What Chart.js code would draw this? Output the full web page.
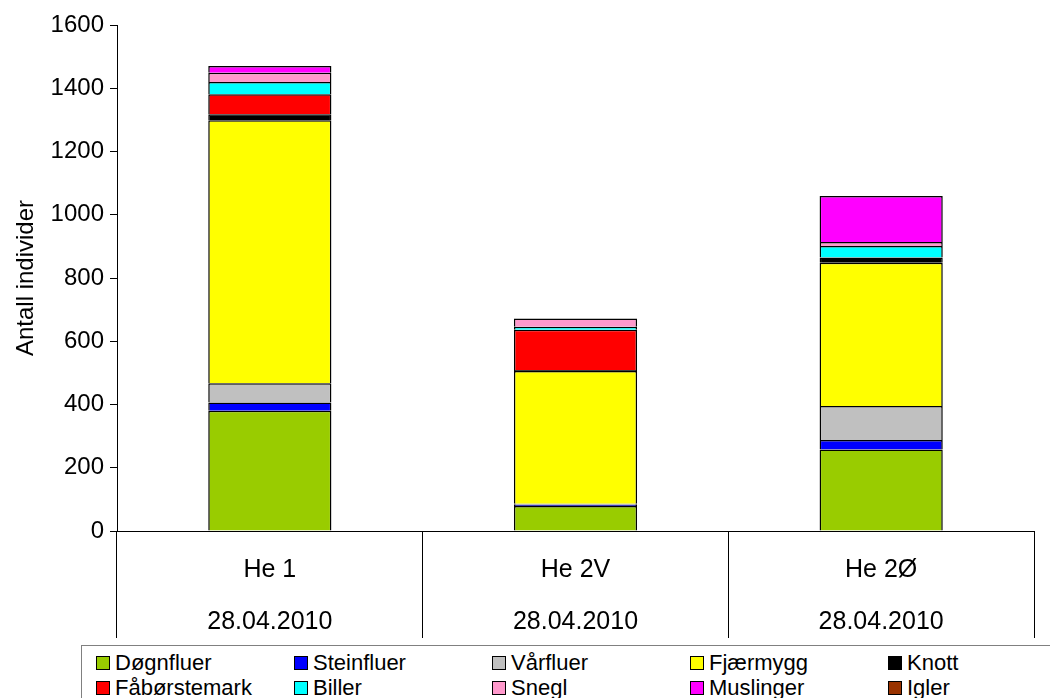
<!DOCTYPE html>
<html>
<head>
<meta charset="utf-8">
<script src="https://cdn.jsdelivr.net/npm/chart.js@4.4.0/dist/chart.umd.min.js"></script>
<style>
  body { margin: 0; background: #fff; }
  #wrap { position: relative; width: 1050px; height: 698px; overflow: hidden; }
  #legend {
    position: absolute; left: 81px; top: 645px; width: 1000px; height: 70px;
    border: 1px solid #808080; background: #fff; box-sizing: border-box;
    padding: 4px 0 0 14px;
    display: grid; grid-template-columns: repeat(5, 198px); grid-auto-rows: 25px;
    font-family: 'Liberation Sans', Arial, sans-serif; font-size: 22px; color: #000;
  }
  #legend .item { display: flex; align-items: center; white-space: nowrap; }
  #legend .box { width: 12px; height: 12px; border: 1px solid #000; margin-right: 5px; flex: none; }
</style>
</head>
<body>
<div id="wrap">
  <canvas id="myChart" width="1050" height="698"></canvas>
  <div id="legend"></div>
</div>
<script>
// data
var sites = ['He 1', 'He 2V', 'He 2Ø'];
var dates = ['28.04.2010', '28.04.2010', '28.04.2010'];

var dognfluer    = [380, 79, 258];
var steinfluer   = [26, 4, 30];
var varfluer     = [61, 3, 107];
var fjaermygg    = [832, 420, 453];
var knott        = [19, 3, 17];
var faborstemark = [63, 127, 0];
var biller       = [39, 10, 36];
var snegl        = [29, 26, 13];
var muslinger    = [21, 0, 145];
var igler        = [0, 0, 0];

var yTicks = [0, 200, 400, 600, 800, 1000, 1200, 1400, 1600];

var font = "'Liberation Sans', Arial, sans-serif";

function ds(label, data, color) {
  return {
    label: label,
    data: data,
    backgroundColor: color,
    borderColor: '#000',
    borderWidth: 1.5,
    barPercentage: 0.403,
    categoryPercentage: 1
  };
}

var ctx = document.getElementById('myChart').getContext('2d');
var myChart = new Chart(ctx, {
  type: 'bar',
  data: {
    labels: sites,
    datasets: [
      ds('Døgnfluer', dognfluer, '#99CC00'),
      ds('Steinfluer', steinfluer, '#0000FF'),
      ds('Vårfluer', varfluer, '#C0C0C0'),
      ds('Fjærmygg', fjaermygg, '#FFFF00'),
      ds('Knott', knott, '#000000'),
      ds('Fåbørstemark', faborstemark, '#FF0000'),
      ds('Biller', biller, '#00FFFF'),
      ds('Snegl', snegl, '#FF99CC'),
      ds('Muslinger', muslinger, '#FF00FF'),
      ds('Igler', igler, '#993300')
    ]
  },
  options: {
    responsive: false,
    animation: false,
    devicePixelRatio: 1,
    layout: { padding: { top: 25, right: 16, left: 0, bottom: 0 } },
    plugins: {
      legend: { display: false },
      tooltip: { enabled: false }
    },
    scales: {
      x: {
        stacked: true,
        offset: true,
        border: { color: '#000', width: 1 },
        grid: {
          offset: true,
          drawOnChartArea: false,
          drawTicks: true,
          tickLength: 107,
          color: '#000'
        },
        ticks: {
          color: '#000',
          font: { family: font, size: 25, lineHeight: 2.08 },
          padding: -94,
          maxRotation: 0,
          callback: function (v, i) { return [sites[i], dates[i]]; }
        },
        afterFit: function (s) { s.height = 167; }
      },
      y: {
        stacked: true,
        min: 0,
        max: 1600,
        border: { color: '#000', width: 1 },
        grid: { drawOnChartArea: false, tickLength: 7, color: '#000' },
        afterBuildTicks: function (s) { s.ticks = yTicks.map(function (v) { return { value: v }; }); },
        ticks: {
          color: '#000',
          padding: 6,
          font: { family: font, size: 24 },
          callback: function (v) { return String(v); }
        },
        title: {
          display: true,
          text: 'Antall individer',
          color: '#000',
          font: { family: font, size: 24 },
          padding: { top: 12, bottom: 0 }
        },
        afterFit: function (s) { s.width = 117; }
      }
    }
  }
});

// legend built from the chart's datasets
var leg = document.getElementById('legend');
myChart.data.datasets.forEach(function (d) {
  var item = document.createElement('div');
  item.className = 'item';
  var box = document.createElement('span');
  box.className = 'box';
  box.style.background = d.backgroundColor;
  var txt = document.createElement('span');
  txt.textContent = d.label;
  item.appendChild(box);
  item.appendChild(txt);
  leg.appendChild(item);
});
</script>
</body>
</html>
